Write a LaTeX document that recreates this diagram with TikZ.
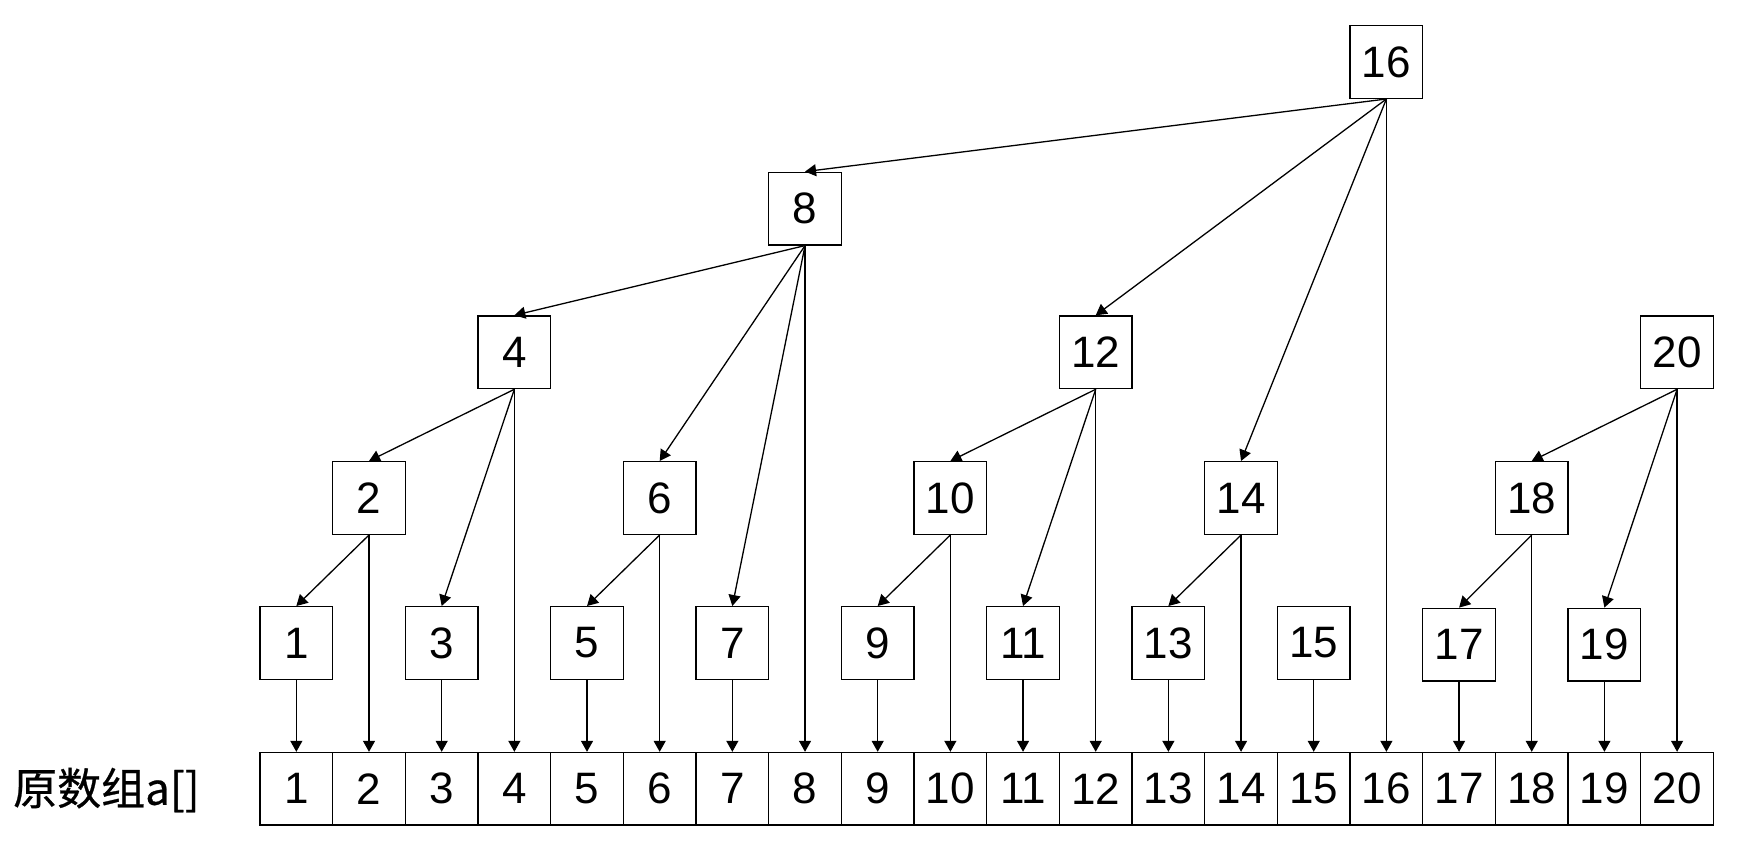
\documentclass[tikz,border=0pt]{standalone}
\usepackage{fontspec}
\setmainfont{Liberation Sans}
\newfontfamily\cjk[FakeBold=0.6]{Noto Sans CJK SC}
\usetikzlibrary{arrows.meta}
\begin{document}
\begin{tikzpicture}[x=1pt,y=-1pt,
  box/.style={draw, line width=1.3pt, minimum width=72.67pt, minimum height=72.67pt, inner sep=0pt, font=\fontsize{44}{44}\selectfont},
  link/.style={line width=1.3pt, -{Triangle[width=12pt,length=11pt]}}]
\useasboundingbox (0,0) rectangle (1744,856);
% array cells
\foreach \k in {1,...,20} \node[box] (c\k) at ({260+(\k-0.5)*72.67}, 788.8) {\k};
% tree nodes
\foreach \k in {1,3,...,15} \node[box] (n\k) at ({260+(\k-0.5)*72.67}, 643) {\k};
\foreach \k in {17,19} \node[box] (n\k) at ({260+(\k-0.5)*72.67}, 644.6) {\k};
\foreach \k in {2,6,10,14,18} \node[box] (n\k) at ({260+(\k-0.5)*72.67}, 498) {\k};
\foreach \k in {4,12,20} \node[box] (n\k) at ({260+(\k-0.5)*72.67}, 352.3) {\k};
\node[box] (n8) at ({260+7.5*72.67}, 208.6) {8};
\node[box] (n16) at ({260+15.5*72.67}, 62) {16};
% label
\node[anchor=west, inner sep=0pt, font=\cjk\fontsize{44}{44}\selectfont] (lab) at (13, 790) {原数组a[]};
% edges
\foreach \p/\c in {16/8,16/12,16/14,8/4,8/6,8/7,4/2,4/3,12/10,12/11,20/18,20/19,2/1,6/5,10/9,14/13,18/17}
  \draw[link] (n\p.south) -- (n\c.north);
\foreach \k in {1,...,20} \draw[link] (n\k.south) -- (c\k.north);
\end{tikzpicture}
\end{document}
